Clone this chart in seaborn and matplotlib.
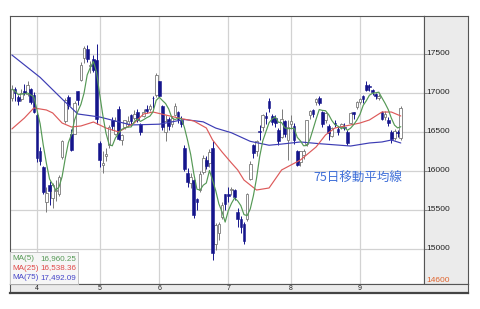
import numpy as np
import pandas as pd
import matplotlib
matplotlib.use("Agg")
import matplotlib.pyplot as plt
import seaborn as sns

# ---------------- data ----------------
opens = [16930, 17050, 16950, 16920, 17030, 16990, 17050, 16980,
         16720, 16250, 16050, 15600, 15820, 15660, 15740, 15700, 16180, 16640, 16950, 16480,
         16480, 17020, 17170, 17450, 17570, 17350, 17440, 17420,
         16360, 16080, 16190, 16330, 16650, 16480, 16800, 16400, 16570, 16600,
         16720, 16680, 16750, 16600, 16700, 16800, 16790, 16940, 16970,
         17150, 16830, 16500, 16670, 16600, 16720, 16760, 16650, 16300, 15980, 15850,
         15880, 15640, 15750, 15990, 16140, 16100, 16290, 15060, 15200, 15410, 15700,
         15700, 15750, 15750, 15480, 15380, 15320, 15380, 15900, 16330, 16250, 16500,
         16560, 16700, 16900, 16700, 16680, 16520, 16430, 16640, 16400,
         16600, 16580, 16250, 16120, 16200, 16350, 16720, 16780, 16880, 16940, 16750,
         16660, 16580, 16450, 16620, 16540, 16560, 16560, 16500, 16620, 16750, 16820,
         16880, 16960, 17100, 17090, 17040, 16990, 16940, 16760, 16690, 16660, 16500,
         16420, 16500, 16420]
highs = [17100, 17080, 16970, 17050, 17110, 17160, 17070, 17010,
         16740, 16310, 16060, 15800, 15870, 15850, 15880, 15950, 16400, 16930, 16970, 16540,
         16900, 17030, 17400, 17600, 17610, 17410, 17490, 17630,
         16380, 16260, 16300, 16590, 16690, 16690, 16830, 16480, 16660, 16700,
         16730, 16780, 16790, 16610, 16790, 16850, 16860, 16960, 17250,
         17160, 16840, 16720, 16690, 16700, 16870, 16770, 16710, 16330, 16040, 15970,
         15900, 15650, 16000, 16200, 16190, 16280, 16390, 15330, 15350, 15600, 15710,
         15790, 15800, 15770, 15520, 15420, 15340, 15720, 16130, 16350, 16400, 16590,
         16730, 16750, 16940, 16730, 16720, 16550, 16800, 16650, 16660,
         16720, 16610, 16270, 16260, 16280, 16660, 16780, 16790, 16940, 16960, 16770,
         16760, 16600, 16560, 16660, 16580, 16620, 16610, 16520, 16750, 16760, 16900,
         16940, 16970, 17150, 17120, 17050, 17000, 16990, 16770, 16770, 16690, 16520,
         16540, 16520, 16830]
lows = [16900, 16900, 16840, 16900, 16980, 16960, 16860, 16740,
        16120, 16080, 15700, 15470, 15560, 15520, 15620, 15680, 16160, 16620, 16800, 16250,
        16470, 16840, 17150, 17380, 17400, 17250, 17270, 16600,
        16050, 15980, 16130, 16300, 16520, 16460, 16400, 16330, 16540, 16560,
        16580, 16650, 16630, 16460, 16690, 16740, 16770, 16810, 16950,
        16950, 16520, 16380, 16520, 16570, 16700, 16620, 16560, 16000, 15800, 15780,
        15400, 15500, 15730, 15960, 16030, 16050, 14864, 14990, 15120, 15380, 15500,
        15600, 15690, 15630, 15280, 15200, 15070, 15360, 15880, 16170, 16190, 16400,
        16510, 16600, 16750, 16590, 16560, 16330, 16420, 16430, 16140,
        16540, 16350, 16060, 16060, 16160, 16320, 16670, 16690, 16850, 16840, 16560,
        16620, 16400, 16440, 16570, 16460, 16540, 16520, 16330, 16600, 16670, 16800,
        16860, 16870, 17020, 17030, 16980, 16920, 16910, 16650, 16660, 16580, 16360,
        16400, 16430, 16400]
closes = [17048, 17000, 16892, 17002, 17002, 17103, 16878, 16758,
          16164, 16123, 15732, 15715, 15749, 15821, 15751, 15928, 16381, 16911, 16848, 16275,
          16874, 16906, 17363, 17572, 17440, 17353, 17290, 16666,
          16147, 16106, 16216, 16565, 16579, 16646, 16412, 16466, 16652, 16644,
          16646, 16736, 16654, 16498, 16757, 16772, 16834, 16931, 17234,
          16955, 16562, 16642, 16580, 16675, 16830, 16668, 16601, 16019, 15859, 15919,
          15434, 15599, 15965, 16169, 16065, 16238, 14952, 15309, 15323, 15566, 15575,
          15682, 15775, 15669, 15378, 15276, 15106, 15708, 16095, 16231, 16385, 16497,
          16723, 16681, 16810, 16627, 16620, 16383, 16664, 16476, 16569,
          16635, 16391, 16083, 16254, 16254, 16650, 16764, 16735, 16919, 16869, 16596,
          16745, 16486, 16545, 16598, 16497, 16597, 16555, 16360, 16737, 16725, 16887,
          16926, 16925, 17037, 17081, 17012, 16958, 16965, 16672, 16729, 16614, 16405,
          16519, 16492, 16807]

month_labels = ["4", "5", "6", "7", "8", "9"]
month_start = [8, 28, 47, 69, 89, 111]

ma25_idx = [0, 4, 7, 11, 13, 16, 19, 22, 26, 30, 34, 39, 42, 45, 49, 53, 58, 62, 64, 67,
            70, 72, 74, 78, 82, 86, 92, 97, 100, 103, 108, 111, 114, 118, 121, 124]
ma25_val = [16539, 16680, 16808, 16782, 16744, 16615, 16564, 16577, 16628, 16551, 16500,
            16615, 16731, 16756, 16718, 16680, 16641, 16551, 16397, 16244, 16103, 16013,
            15884, 15756, 15782, 16013, 16141, 16308, 16462, 16551, 16590, 16615, 16654,
            16756, 16756, 16705]
ma75_idx = [0, 9, 16, 21, 28, 38, 47, 55, 61, 65, 70, 76, 82, 86, 92, 98, 108, 114, 118, 121, 124]
ma75_val = [17487, 17200, 16923, 16731, 16692, 16590, 16600, 16660, 16630, 16550, 16490,
            16380, 16330, 16345, 16372, 16350, 16320, 16359, 16372, 16397, 16359]

y_ticks = [15000, 15500, 16000, 16500, 17000, 17500]
low_mark = 14600
legend_names = ["MA(5)", "MA(25)", "MA(75)"]
legend_values = ["16,960.25", "16,538.36", "17,492.09"]
annotation = "75日移動平均線"

# ---------------- styling ----------------
sns.set_style("white")
plt.rcParams['font.family'] = ['Liberation Sans', 'DejaVu Sans']

C_GREEN = "#559955"
C_RED = "#DD5a5a"
C_BLUE = "#3C3CB4"
C_DOWN = "#15158C"
C_UPEDGE = "#7A7A7A"
C_GRID = "#D2D2D2"
C_PANEL = "#EBEBEB"
C_BORDER = "#555555"

W, H = 480, 309
fig = plt.figure(figsize=(4.8, 3.09), dpi=100)
fig.patch.set_facecolor("white")

def fx(px):
    return px / W

def fy(py):
    return 1 - py / H

PX_PER_DAY = 3.136
X0 = -0.61
XMAX = X0 + (424 - 10) / PX_PER_DAY
YLIM = (14551, 17987)

# main axes
ax = fig.add_axes([fx(10), fy(284), (424 - 10) / W, (284 - 16) / H])
ax.set_xlim(X0, XMAX)
ax.set_ylim(*YLIM)
ax.set_yticks(y_ticks)
ax.set_xticks(month_start)
ax.grid(True, color=C_GRID, linewidth=0.9)
ax.tick_params(labelleft=False, labelbottom=False, length=0)
for s in ax.spines.values():
    s.set_color(C_BORDER)
    s.set_linewidth(0.8)

o = np.array(opens, float)
h = np.array(highs, float)
l = np.array(lows, float)
c = np.array(closes, float)
x = np.arange(len(c))
up = c >= o
bottom = np.minimum(o, c)
height = np.maximum(np.abs(c - o), 10)

ax.vlines(x[up], l[up], h[up], colors=C_UPEDGE, linewidth=0.7, zorder=2)
ax.vlines(x[~up], l[~up], h[~up], colors=C_DOWN, linewidth=0.7, zorder=2)
ax.bar(x[up], height[up], bottom=bottom[up], width=0.85, color="white",
       edgecolor=C_UPEDGE, linewidth=0.6, zorder=3)
ax.bar(x[~up], height[~up], bottom=bottom[~up], width=0.85, color=C_DOWN,
       edgecolor=C_DOWN, linewidth=0.4, zorder=3)

ma5 = pd.Series(c).rolling(5, min_periods=1).mean()
df5 = pd.DataFrame({"i": x, "v": ma5})
df25 = pd.DataFrame({"i": ma25_idx, "v": ma25_val})
df75 = pd.DataFrame({"i": ma75_idx, "v": ma75_val})
sns.lineplot(data=df75, x="i", y="v", ax=ax, color=C_BLUE, linewidth=0.85, zorder=4)
sns.lineplot(data=df25, x="i", y="v", ax=ax, color=C_RED, linewidth=0.85, zorder=4)
sns.lineplot(data=df5, x="i", y="v", ax=ax, color=C_GREEN, linewidth=0.85, zorder=4)
ax.set_xlabel("")
ax.set_ylabel("")
ax.set_xlim(X0, XMAX)
ax.set_ylim(*YLIM)

# right price panel
axr = fig.add_axes([fx(424), fy(284), (468 - 424) / W, (284 - 16) / H])
axr.set_facecolor(C_PANEL)
axr.set_xlim(0, 1)
axr.set_ylim(*YLIM)
axr.set_xticks([])
axr.set_yticks([])
for s in axr.spines.values():
    s.set_color(C_BORDER)
    s.set_linewidth(0.8)
for t in y_ticks:
    axr.hlines(t, 0, 0.07, color="#888888", linewidth=0.7)
    axr.text(0.06, t, str(t), ha="left", va="center", fontsize=6, color="#222222")
axr.text(0.06, low_mark, str(low_mark), ha="left", va="center", fontsize=6, color="#E0652F")

# bottom month strip
axb = fig.add_axes([fx(10), fy(293), (468 - 10) / W, (293 - 284) / H])
axb.set_facecolor(C_PANEL)
axb.set_xlim(X0, X0 + (468 - 10) / PX_PER_DAY)
axb.set_ylim(0, 1)
axb.set_xticks([])
axb.set_yticks([])
for s in axb.spines.values():
    s.set_color(C_BORDER)
    s.set_linewidth(0.8)
axb.spines["bottom"].set_linewidth(1.6)
axb.spines["bottom"].set_color("#444444")
for lab, pos in zip(month_labels, month_start):
    axb.text(pos, 0.45, lab, ha="center", va="center", fontsize=5, color="#222222")

# MA legend box
axl = fig.add_axes([fx(10), fy(284), (78 - 10) / W, (284 - 252) / H])
axl.set_facecolor("#F6F6F6")
axl.set_xlim(0, 1)
axl.set_ylim(0, 1)
axl.set_xticks([])
axl.set_yticks([])
for s in axl.spines.values():
    s.set_color("#BBBBBB")
    s.set_linewidth(0.6)
for k, (nm, val, col) in enumerate(zip(legend_names, legend_values, [C_GREEN, "#E04848", "#4545C8"])):
    yy = 0.81 - k * 0.31
    axl.text(0.03, yy, nm, ha="left", va="center", fontsize=5.8, color=col)
    axl.text(0.98, yy, val, ha="right", va="center", fontsize=5.8, color=col)

# annotation
fig.text(fx(313), fy(178), annotation, ha="left", va="center", fontsize=9,
         color="#3F6FD8", family=["Noto Sans CJK JP", "DejaVu Sans"])

fig.savefig("out.png", dpi=100)
